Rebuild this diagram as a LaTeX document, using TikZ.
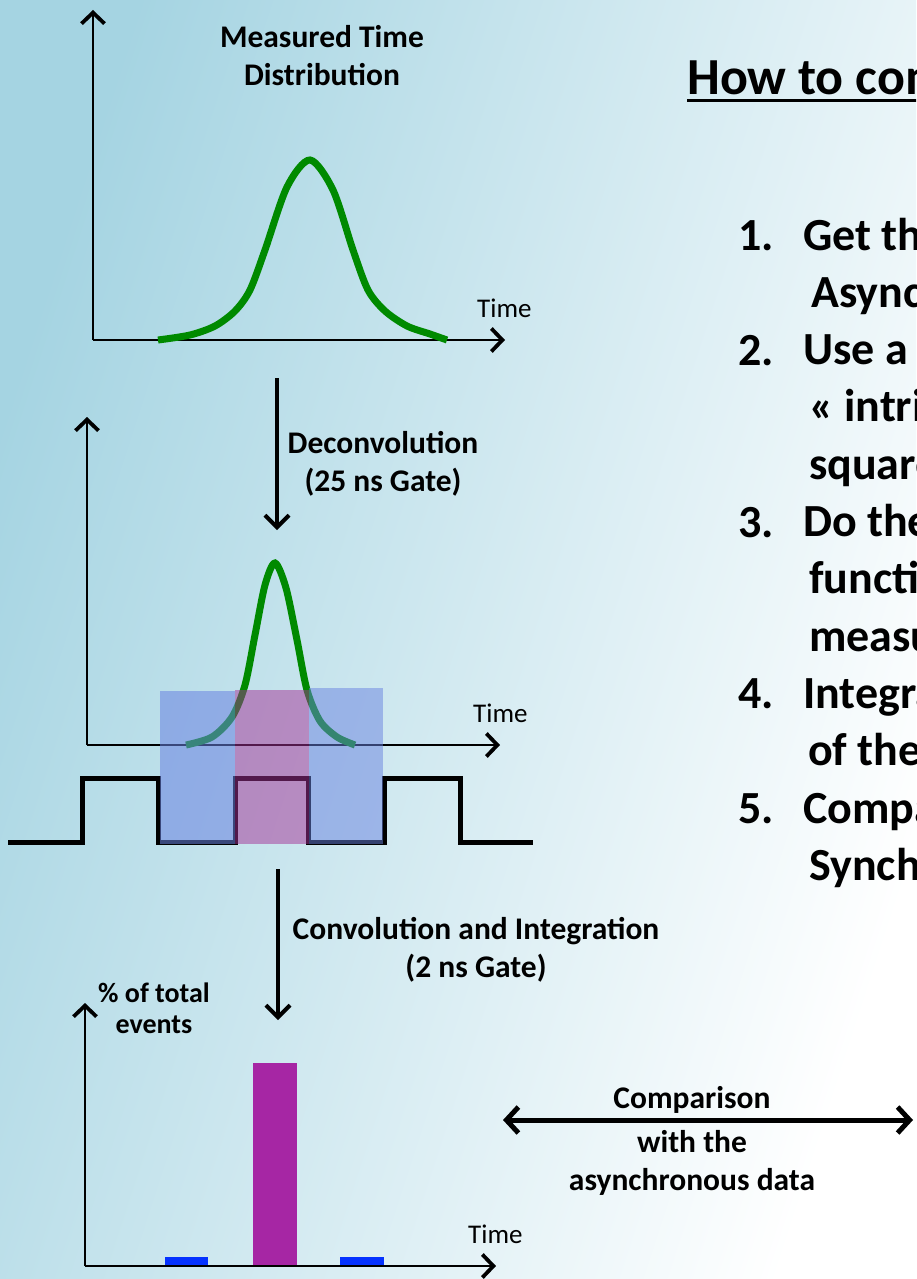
\documentclass[tikz,border=0pt]{standalone}
\usepackage{fontspec}
\setmainfont{Carlito}
\usetikzlibrary{arrows.meta}

\definecolor{bgblue}{RGB}{165,212,226}
\definecolor{bgmid}{RGB}{216,236,243}
\definecolor{curvegreen}{RGB}{0,138,0}
\definecolor{gateblue}{RGB}{105,130,225}
\definecolor{gatepink}{RGB}{165,50,150}
\definecolor{barpink}{RGB}{166,38,164}
\definecolor{barblue}{RGB}{5,50,255}

\tikzset{
  axis/.style={line width=2pt, -{Straight Barb[length=11pt,width=23pt,line width=3.8pt]}},
  bigarrow/.style={line width=4pt, -{Straight Barb[length=12pt,width=24pt,line width=4pt]}},
  gauss/.style={line width=7pt, curvegreen},
  wave/.style={line width=5pt},
  lbl/.style={font=\bfseries\fontsize{31.5}{38}\selectfont, align=center, anchor=base, inner sep=0pt},
  timelbl/.style={font=\fontsize{27}{32}\selectfont, anchor=base west, inner sep=0pt},
  item/.style={font=\bfseries\fontsize{46}{57}\selectfont, anchor=base west, inner sep=0pt},
}

\begin{document}
\begin{tikzpicture}[x=1pt, y=-1pt]
  \useasboundingbox (0,0) rectangle (916,1279);
  \clip (0,0) rectangle (916,1279);
  \shade[left color=bgblue, middle color=bgmid, right color=white, shading angle=72]
    (0,0) rectangle (916,1279);

  % measured distribution
  \coordinate (o1) at (93,340);
  \coordinate (y1) at (93,10);
  \coordinate (x1) at (505,340);
  \draw[axis] (o1) -- (y1);
  \draw[axis] (o1) -- (x1);
  \draw[gauss] plot[smooth] coordinates {(158,340) (190,335) (215,326) (235,311)
    (250,290) (265,250) (287,187) (310,160) (333,190) (353,250) (368,290)
    (385,311) (407,326) (430,334) (447,340)};
  \node[lbl] (meas) at (322,86) {Measured Time\\Distribution};
  \node[timelbl] (t1) at (477,317) {Time};

  % deconvolution
  \coordinate (dtop) at (277,378);
  \coordinate (dtip) at (277,530);
  \draw[bigarrow] (dtop) -- (dtip);
  \node[lbl] (deconv) at (383,491) {Deconvolution\\(25 ns Gate)};

  % intrinsic distribution and gates
  \coordinate (o2) at (87,745);
  \coordinate (y2) at (87,417);
  \coordinate (x2) at (500,745);
  \draw[axis] (o2) -- (y2);
  \draw[axis] (o2) -- (x2);
  \draw[gauss] plot[smooth] coordinates {(186,745) (212,737) (232,717) (245,685)
    (255,635) (265,585) (275,563) (286,588) (297,640) (307,690) (320,721)
    (337,737) (355,745)};
  \node[timelbl] (t2) at (473,722) {Time};
  \draw[wave] (8,842) -- (82,842) -- (82,778) -- (158,778) -- (158,842) -- (235,842)
    -- (235,778) -- (308,778) -- (308,842) -- (384,842) -- (384,778) -- (460,778)
    -- (460,842) -- (533,842);
  \fill[gateblue, opacity=0.55] (160,691) rectangle (235,844);
  \fill[gateblue, opacity=0.5] (309,688) rectangle (383,844);
  \fill[gatepink, opacity=0.5] (235,690) rectangle (309,844);

  % convolution
  \coordinate (ctop) at (278,869);
  \coordinate (ctip) at (278,1020);
  \draw[bigarrow] (ctop) -- (ctip);
  \node[lbl] (conv) at (476,977) {Convolution and Integration\\(2 ns Gate)};

  % histogram
  \coordinate (o3) at (85,1266);
  \coordinate (y3) at (85,1003);
  \coordinate (x3) at (496,1266);
  \fill[barblue] (165,1257) rectangle (208,1266);
  \fill[barpink] (253,1063) rectangle (297,1266);
  \fill[barblue] (340,1257) rectangle (384,1266);
  \draw[axis] (o3) -- (y3);
  \draw[axis] (o3) -- (x3);
  \node[lbl, font=\bfseries\fontsize{28}{31}\selectfont] (pct) at (154,1033) {\% of total\\events};
  \node[timelbl] (t3) at (468,1243) {Time};

  % comparison
  \coordinate (cl) at (503,1120);
  \coordinate (cr) at (913,1120);
  \draw[line width=5pt, {Straight Barb[length=12pt,width=26pt,line width=5pt]}-{Straight Barb[length=12pt,width=26pt,line width=5pt]}] (cl) -- (cr);
  \node[lbl] (cmp) at (692,1108) {Comparison};
  \node[lbl] (async) at (692,1190) {with the\\asynchronous data};

  % steps
  \node[item, font=\bfseries\fontsize{52}{60}\selectfont] (title) at (687,95) {How to compute};
  \draw[line width=3pt] ([yshift=-6pt]title.base west) -- ([yshift=-6pt]title.base east);
  \foreach \n/\yy in {1./250, 2./365, 3./537, 4./708, 5./823}
    \node[item] (num\n) at (738,\yy) {\n};
  \foreach \t/\xx [count=\i from 0] in {Get the/803, Asynchronous/811, Use a/803,
      « intrinsic/809, square/809, Do the/803, function/809, measured/809,
      Integrate/803, of the/808, Compare/803, Synchronous/809}
    \node[item] (ln\i) at (\xx,250+57.3*\i) {\t};
\end{tikzpicture}
\end{document}
